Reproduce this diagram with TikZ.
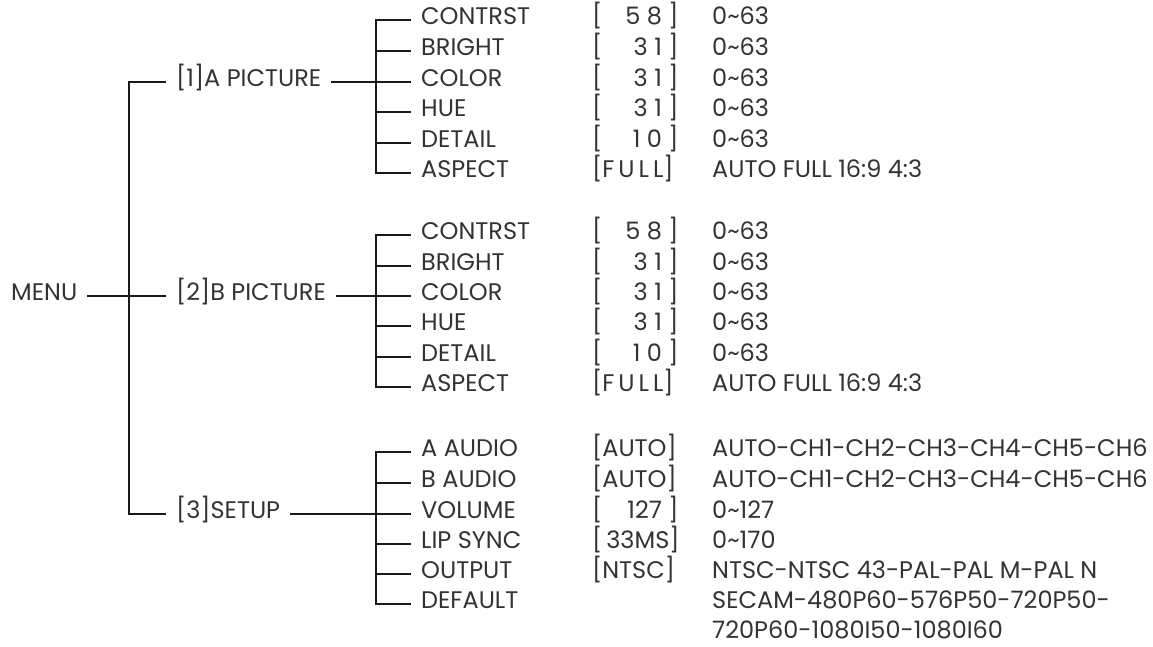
\documentclass[tikz,border=0pt]{standalone}
\usepackage{fontspec}
\setmainfont{Poppins}
\newcommand\bv[1]{[\makebox[66pt][r]{#1\ }]}
\begin{document}
\begin{tikzpicture}[x=1pt,y=-1pt,
  txt/.style={font=\fontsize{24}{24}\selectfont, text=black!80, inner ysep=0pt, text height=0.86em, text depth=0pt},
  lbl/.style={txt, anchor=west, inner xsep=10pt},
  val/.style={txt, anchor=west, inner xsep=0pt},
  thk/.style={line width=2.2pt, black!90},
  thn/.style={line width=1.2pt, black!90}]
\useasboundingbox (0,0) rectangle (1153,647);
% level 0 and 1
\node[lbl] (menu) at (1,296) {MENU};
\node[lbl] (pa) at (166,82) {[1]A PICTURE};
\node[lbl] (pb) at (166,296) {[2]B PICTURE};
\node[lbl] (pc) at (166,514) {[3]SETUP};
\coordinate (ta) at (129,82);
\coordinate (tc) at (129,514);
\draw[thk] (pa.west) -- (ta) -- (tc) -- (pc.west);
\draw[thn] (menu.east) -- (pb.west);
% group 1
\foreach \n/\y/\l/\v/\r in {1/20/CONTRST/{\bv{5 8}}/{0\textasciitilde63},
  2/51/BRIGHT/{\bv{3 1}}/{0\textasciitilde63},
  3/82/COLOR/{\bv{3 1}}/{0\textasciitilde63},
  4/112/HUE/{\bv{3 1}}/{0\textasciitilde63},
  5/143/DETAIL/{\bv{1 0}}/{0\textasciitilde63},
  6/173/ASPECT/{[F\,U\,L\,L]}/{AUTO FULL 16:9 4:3}}{
  \node[lbl] (a\n) at (411,\y) {\l};
  \node[val] (va\n) at (592,\y) {\v};
  \node[val] (ra\n) at (712,\y) {\r};
}
\coordinate (ga) at (376,82);
\draw[thk] (a1.west) -- (a1.west -| ga) -- (a6.west -| ga) -- (a6.west);
\foreach \n in {2,4,5}{\draw[thk] (a\n.west) -- (a\n.west -| ga);}
\draw[thk] (pa.east) -- (a3.west);
% group 2
\foreach \n/\y/\l/\v/\r in {1/235/CONTRST/{\bv{5 8}}/{0\textasciitilde63},
  2/266/BRIGHT/{\bv{3 1}}/{0\textasciitilde63},
  3/296/COLOR/{\bv{3 1}}/{0\textasciitilde63},
  4/326/HUE/{\bv{3 1}}/{0\textasciitilde63},
  5/357/DETAIL/{\bv{1 0}}/{0\textasciitilde63},
  6/387/ASPECT/{[F\,U\,L\,L]}/{AUTO FULL 16:9 4:3}}{
  \node[lbl] (b\n) at (411,\y) {\l};
  \node[val] (vb\n) at (592,\y) {\v};
  \node[val] (rb\n) at (712,\y) {\r};
}
\coordinate (gb) at (376,296);
\draw[thk] (b1.west) -- (b1.west -| gb) -- (b6.west -| gb) -- (b6.west);
\foreach \n in {2,4,5}{\draw[thk] (b\n.west) -- (b\n.west -| gb);}
\draw[thn] (pb.east) -- (b3.west);
% group 3
\foreach \n/\y/\l/\v/\r in {1/452/A AUDIO/{[AUTO]}/{AUTO-CH1-CH2-CH3-CH4-CH5-CH6},
  2/483/B AUDIO/{[AUTO]}/{AUTO-CH1-CH2-CH3-CH4-CH5-CH6},
  3/514/VOLUME/{\bv{127}}/{0\textasciitilde127},
  4/544/LIP SYNC/{[\,33MS]}/{0\textasciitilde170},
  5/574/OUTPUT/{[NTSC]}/{NTSC-NTSC 43-PAL-PAL M-PAL N},
  6/604/DEFAULT/{}/{SECAM-480P60-576P50-720P50-}}{
  \node[lbl] (c\n) at (411,\y) {\l};
  \node[val] (vc\n) at (592,\y) {\v};
  \node[val] (rc\n) at (712,\y) {\r};
}
\node[val] (rc7) at (712,634) {720P60-1080I50-1080I60};
\coordinate (gc) at (376,514);
\draw[thk] (c1.west) -- (c1.west -| gc) -- (c6.west -| gc) -- (c6.west);
\foreach \n in {2,4,5}{\draw[thk] (c\n.west) -- (c\n.west -| gc);}
\draw[thn] (pc.east) -- (c3.west);
\end{tikzpicture}
\end{document}
